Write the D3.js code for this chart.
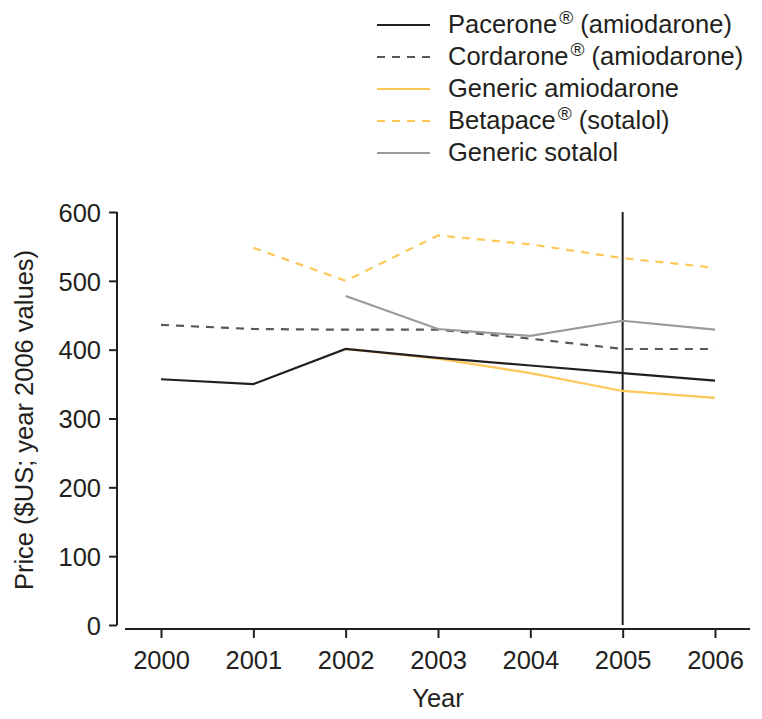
<!DOCTYPE html>
<html>
<head>
<meta charset="utf-8">
<script src="https://cdn.jsdelivr.net/npm/d3@7"></script>
<style>
  body { margin: 0; background: #fff; }
  text { font-family: "Liberation Sans", Arial, sans-serif; fill: #231f20; }
</style>
</head>
<body>
<svg id="chart" width="762" height="719"></svg>
<script>
const years = [2000, 2001, 2002, 2003, 2004, 2005, 2006];
const yTicks = [0, 100, 200, 300, 400, 500, 600];

// prices, null where the product was not on the market
const pacerone = [357, 350, 401, 388, 377, 366, 355];
const cordarone = [436, 430, 429, 429, 416, 401, 401];
const genericAmio = [null, null, 401, 387, 366, 340, 330];
const betapace = [null, 548, 500, 566, 553, 533, 519];
const genericSotalol = [null, null, 478, 430, 420, 442, 429];

const markerYear = 2005;

const series = [
  { name: "Pacerone", reg: true, tail: " (amiodarone)", values: pacerone, color: "#231f20", dash: null },
  { name: "Cordarone", reg: true, tail: " (amiodarone)", values: cordarone, color: "#58585a", dash: "8,7" },
  { name: "Generic amiodarone", reg: false, tail: "", values: genericAmio, color: "#fdc857", dash: null },
  { name: "Betapace", reg: true, tail: " (sotalol)", values: betapace, color: "#fdc857", dash: "8,7" },
  { name: "Generic sotalol", reg: false, tail: "", values: genericSotalol, color: "#999a9c", dash: null }
];

const svg = d3.select("#chart");

const x = d3.scaleLinear().domain([2000, 2006]).range([161, 715]);
const y = d3.scaleLinear().domain([0, 600]).range([625, 212]);

// y axis
const yAxis = svg.append("g")
  .attr("transform", "translate(117,0)")
  .call(d3.axisLeft(y).tickValues(yTicks).tickSize(8).tickPadding(8));
yAxis.select(".domain").attr("stroke", "#231f20").attr("stroke-width", 2).attr("d", "M0,212V625");
yAxis.selectAll(".tick line").attr("stroke", "#231f20").attr("stroke-width", 2);
yAxis.selectAll(".tick text").attr("font-size", 25.5).attr("fill", "#231f20").attr("dy", "0.36em");

// x axis
const xAxis = svg.append("g")
  .attr("transform", "translate(0,629)")
  .call(d3.axisBottom(x).tickValues(years).tickFormat(d3.format("d")).tickSize(9).tickPadding(13));
xAxis.select(".domain").attr("stroke", "#231f20").attr("stroke-width", 2).attr("d", "M125,0H750");
xAxis.selectAll(".tick line").attr("stroke", "#231f20").attr("stroke-width", 2);
xAxis.selectAll(".tick text").attr("font-size", 25.5).attr("fill", "#231f20");

// axis titles
svg.append("text")
  .attr("x", 438)
  .attr("y", 707)
  .attr("text-anchor", "middle")
  .attr("font-size", 25.5)
  .text("Year");

svg.append("text")
  .attr("transform", "translate(33,420) rotate(-90)")
  .attr("text-anchor", "middle")
  .attr("font-size", 25.5)
  .text("Price ($US; year 2006 values)");

// vertical marker at 2005
svg.append("line")
  .attr("x1", x(markerYear)).attr("x2", x(markerYear))
  .attr("y1", y(600)).attr("y2", y(0))
  .attr("stroke", "#231f20")
  .attr("stroke-width", 2);

// lines
const line = d3.line()
  .defined(d => d.v != null)
  .x(d => x(d.year))
  .y(d => y(d.v));

const drawOrder = [1, 4, 3, 2, 0];
drawOrder.forEach(i => {
  const s = series[i];
  svg.append("path")
    .datum(years.map((year, j) => ({ year, v: s.values[j] })))
    .attr("d", line)
    .attr("fill", "none")
    .attr("stroke", s.color)
    .attr("stroke-width", 2.2)
    .attr("stroke-dasharray", s.dash);
});

// legend
const legend = svg.append("g").attr("transform", "translate(377,25)");
series.forEach((s, i) => {
  const row = legend.append("g").attr("transform", `translate(0,${i * 32})`);
  row.append("line")
    .attr("x1", 0).attr("x2", 53)
    .attr("y1", 0).attr("y2", 0)
    .attr("stroke", s.color)
    .attr("stroke-width", 2)
    .attr("stroke-dasharray", s.dash);
  const t = row.append("text")
    .attr("x", 71)
    .attr("y", 8)
    .attr("font-size", 25.5);
  t.append("tspan").text(s.name);
  if (s.reg) {
    t.append("tspan").attr("dx", 2).attr("dy", -9).attr("font-size", 19).text("\u00AE");
    t.append("tspan").attr("dy", 9).text(s.tail);
  }
});
</script>
</body>
</html>
